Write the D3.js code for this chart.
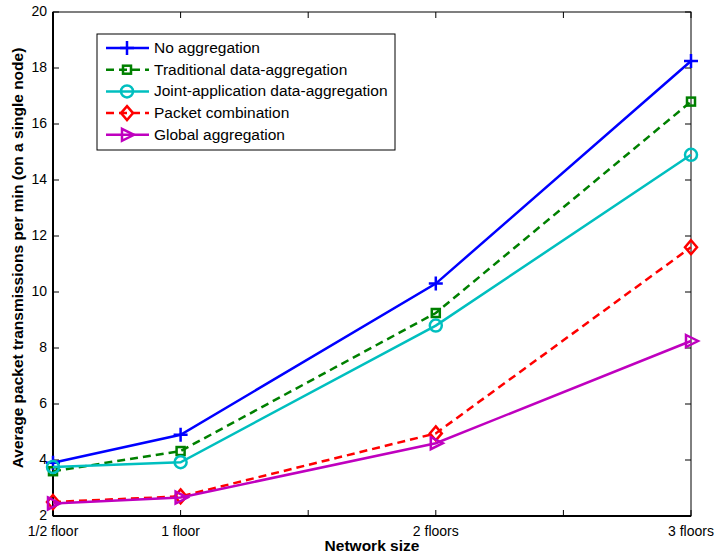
<!DOCTYPE html>
<html>
<head>
<meta charset="utf-8">
<script src="https://cdn.jsdelivr.net/npm/d3@7"></script>
<style>
  body { margin: 0; background: #fff; }
  svg { font-family: Arial, "Liberation Sans", sans-serif; }
</style>
</head>
<body>
<svg id="grafico" width="715" height="553"></svg>
<script>

//DATI

var posizioni = [0.5, 1, 2, 3];
var etichetteX = ["1/2 floor", "1 floor", "2 floors", "3 floors"];
var tickX = [0.5, 1, 1.5, 2, 2.5, 3];
var tickY = [2, 4, 6, 8, 10, 12, 14, 16, 18, 20];

var nomiSerie = ["No aggregation", "Traditional data-aggregation", "Joint-application data-aggregation", "Packet combination", "Global aggregation"];
var noAggregation = [3.9, 4.9, 10.3, 18.25];
var traditional = [3.6, 4.32, 9.25, 16.8];
var jointApplication = [3.75, 3.92, 8.8, 14.9];
var packetCombination = [2.5, 2.7, 4.95, 11.6];
var globalAggregation = [2.45, 2.66, 4.6, 8.25];

var colori = ["#0000ff", "#008000", "#00bfbf", "#ff0000", "#bf00bf"];
var marker = ["plus", "square", "circle", "diamond", "triangle"];
var tratteggi = [null, "8,5", null, "8,5", null];

//VARIABILI

var svg = d3.select("#grafico");
var sx = 53, dx = 691, alto = 12, basso = 516;

var x = d3.scaleLinear().domain([0.5, 3]).range([sx, dx]);
var y = d3.scaleLinear().domain([2, 20]).range([basso, alto]);

var serie = [noAggregation, traditional, jointApplication, packetCombination, globalAggregation];

//FUNZIONI

function disegnaMarker(g, tipo, colore){

    if(tipo == "plus"){
        g.append("path").attr("d", "M-7,0H7M0,-7V7")
            .attr("stroke", colore).attr("stroke-width", 2.5).attr("fill", "none");
    } else if(tipo == "square"){
        g.append("rect").attr("x", -4).attr("y", -4).attr("width", 8).attr("height", 8)
            .attr("stroke", colore).attr("stroke-width", 2.5).attr("fill", "none");
    } else if(tipo == "circle"){
        g.append("circle").attr("r", 6)
            .attr("stroke", colore).attr("stroke-width", 2.5).attr("fill", "none");
    } else if(tipo == "diamond"){
        g.append("path").attr("d", "M0,-7L6,0L0,7L-6,0Z")
            .attr("stroke", colore).attr("stroke-width", 2.5).attr("fill", "none");
    } else if(tipo == "triangle"){
        g.append("path").attr("d", "M-5,-6L7,0L-5,6Z")
            .attr("stroke", colore).attr("stroke-width", 2.5).attr("fill", "none");
    }

}

function disegnaAssi(){

    var assi = svg.append("g");

    // box
    assi.append("rect")
        .attr("x", sx).attr("y", alto)
        .attr("width", dx - sx).attr("height", basso - alto)
        .attr("fill", "none").attr("stroke", "black").attr("stroke-width", 1);
    assi.append("line").attr("x1", sx).attr("x2", dx).attr("y1", basso).attr("y2", basso)
        .attr("stroke", "black").attr("stroke-width", 2);
    assi.append("line").attr("x1", sx).attr("x2", sx).attr("y1", alto).attr("y2", basso)
        .attr("stroke", "black").attr("stroke-width", 2);

    // tick y, sinistra e destra
    assi.selectAll(".ty").data(tickY).enter().append("path")
        .attr("d", d => "M" + sx + "," + y(d) + "h6M" + dx + "," + y(d) + "h-6")
        .attr("stroke", "black").attr("stroke-width", 1);

    assi.selectAll(".ly").data(tickY).enter().append("text")
        .attr("x", sx - 6).attr("y", d => y(d) + 4)
        .attr("text-anchor", "end")
        .style("font-size", "14px")
        .text(d => d);

    // tick x, sotto e sopra
    assi.selectAll(".tx").data(tickX).enter().append("path")
        .attr("d", d => "M" + x(d) + "," + basso + "v-6M" + x(d) + "," + alto + "v6")
        .attr("stroke", "black").attr("stroke-width", 1);

    assi.selectAll(".lx").data(posizioni).enter().append("text")
        .attr("x", d => x(d)).attr("y", 536)
        .attr("text-anchor", "middle")
        .style("font-size", "14px")
        .text((d, i) => etichetteX[i]);

    svg.append("text")
        .attr("x", 372).attr("y", 551)
        .attr("text-anchor", "middle")
        .style("font-size", "15.5px").style("font-weight", "bold")
        .text("Network size");

    svg.append("text")
        .attr("transform", "translate(23,258) rotate(-90)")
        .attr("text-anchor", "middle")
        .style("font-size", "15.5px").style("font-weight", "bold")
        .text("Average packet transmissions per min (on a single node)");

}

function disegnaSerie(){

    var linea = d3.line().x((d, i) => x(posizioni[i])).y(d => y(d));

    serie.forEach((valori, s) => {

        var g = svg.append("g");

        g.append("path")
            .attr("d", linea(valori))
            .attr("fill", "none")
            .attr("stroke", colori[s])
            .attr("stroke-width", 2.5)
            .attr("stroke-dasharray", tratteggi[s]);

        g.selectAll("g").data(valori).enter().append("g")
            .attr("transform", (d, i) => "translate(" + x(posizioni[i]) + "," + y(d) + ")")
            .each(function(){ disegnaMarker(d3.select(this), marker[s], colori[s]); });

    });

}

function disegnaLegenda(){

    var leg = svg.append("g");

    leg.append("rect")
        .attr("x", 97).attr("y", 34).attr("width", 298).attr("height", 116)
        .attr("fill", "white").attr("stroke", "black").attr("stroke-width", 1);

    nomiSerie.forEach((nome, i) => {

        var yy = 48 + i * 21.7;

        leg.append("line")
            .attr("x1", 106).attr("x2", 149).attr("y1", yy).attr("y2", yy)
            .attr("stroke", colori[i]).attr("stroke-width", 2.5)
            .attr("stroke-dasharray", tratteggi[i]);

        disegnaMarker(leg.append("g").attr("transform", "translate(127," + yy + ")"), marker[i], colori[i]);

        leg.append("text")
            .attr("x", 154).attr("y", yy + 5)
            .style("font-size", "15.5px")
            .text(nome);

    });

}

disegnaAssi();
disegnaSerie();
disegnaLegenda();

</script>
</body>
</html>
